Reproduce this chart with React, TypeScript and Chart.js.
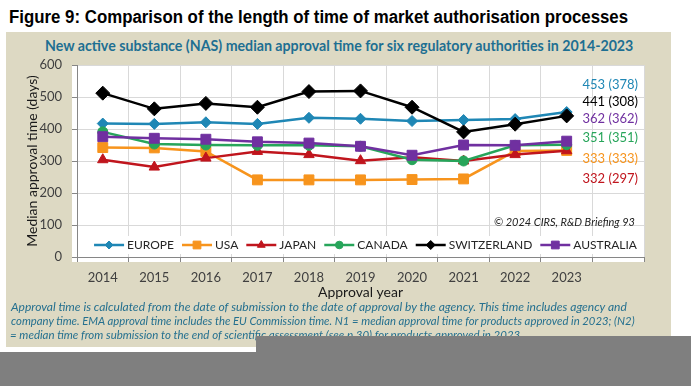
import React, { useEffect, useLayoutEffect, useRef } from 'react';
import { Chart, registerables } from 'chart.js';
import { drawPoint } from 'chart.js/helpers';

Chart.register(...registerables);

// ---------- data ----------
const years = ['2014', '2015', '2016', '2017', '2018', '2019', '2020', '2021', '2022', '2023'];
const categoryLabels = [...years, ''];

const seriesNames = ['EUROPE', 'USA', 'JAPAN', 'CANADA', 'SWITZERLAND', 'AUSTRALIA'];
const europe = [417, 416, 421, 416, 435, 432, 425, 428, 431, 453];
const usa = [342, 341, 330, 241, 241, 241, 242, 244, 331, 333];
const japan = [304, 281, 309, 330, 320, 301, 312, 300, 320, 332];
const canada = [391, 353, 350, 349, 349, 346, 304, 300, 349, 351];
const switzerland = [512, 463, 480, 468, 517, 519, 468, 391, 415, 441];
const australia = [376, 371, 368, 360, 356, 346, 318, 350, 349, 362];
const seriesValues = [europe, usa, japan, canada, switzerland, australia];

const yMin = 0;
const yMax = 600;
const yStep = 100;

// end labels: N1 (N2), in the stacked order shown at the right of the plot
const endLabelSeries = ['EUROPE', 'SWITZERLAND', 'AUSTRALIA', 'CANADA', 'USA', 'JAPAN'];
const endLabelN1 = [453, 441, 362, 351, 333, 332];
const endLabelN2 = [378, 308, 362, 351, 333, 297];
const endLabelLevels = [538, 486, 432, 373, 308, 243];

const titleText = 'Figure 9: Comparison of the length of time of market authorisation processes';
const subtitleText = 'New active substance (NAS) median approval time for six regulatory authorities in 2014-2023';
const yTitle = 'Median approval time (days)';
const xTitle = 'Approval year';
const copyrightText = '\u00A9 2024 CIRS, R&D Briefing 93';
const noteLines = [
  'Approval time is calculated from the date of submission to the date of approval by the agency. This time includes agency and',
  'company time. EMA approval time includes the EU Commission time. N1 = median approval time for products approved in 2023; (N2)',
  '= median time from submission to the end of scientific assessment (see p 30) for products approved in 2023.',
];

// ---------- styles ----------
const seriesStyle: Record<string, { color: string; point: string; r: number; lr: number }> = {
  EUROPE: { color: '#1f87b5', point: 'rectRot', r: 5.5, lr: 4 },
  USA: { color: '#f7941d', point: 'rect', r: 7, lr: 5.5 },
  JAPAN: { color: '#c0151d', point: 'triangle', r: 6, lr: 4.5 },
  CANADA: { color: '#27a55a', point: 'circle', r: 5, lr: 3.8 },
  SWITZERLAND: { color: '#000000', point: 'rectRot', r: 7, lr: 4.5 },
  AUSTRALIA: { color: '#7030a0', point: 'rect', r: 7, lr: 5.5 },
};

const FONT = 'Lato, "Open Sans", sans-serif';
const NOTE_COLOR = '#25708f';

const plotBgPlugin = {
  id: 'plotBg',
  beforeDraw(chart: any) {
    const { ctx, chartArea: ca } = chart;
    ctx.save();
    ctx.fillStyle = '#ffffff';
    ctx.fillRect(ca.left - 5, ca.top, ca.right - ca.left + 5, ca.bottom - ca.top + 5);
    ctx.restore();
  },
};

const overlayPlugin = {
  id: 'overlay',
  afterDatasetsDraw(chart: any) {
    const { ctx, chartArea: ca } = chart;
    const yScale = chart.scales.y;
    ctx.save();

    // end labels
    ctx.font = `13px ${FONT}`;
    ctx.textAlign = 'right';
    ctx.textBaseline = 'middle';
    endLabelSeries.forEach((name, i) => {
      ctx.fillStyle = seriesStyle[name].color;
      ctx.fillText(`${endLabelN1[i]} (${endLabelN2[i]})`, ca.right - 6, yScale.getPixelForValue(endLabelLevels[i]));
    });

    // copyright
    ctx.font = `italic 11px ${FONT}`;
    ctx.fillStyle = '#222222';
    ctx.fillText(copyrightText, ca.right - 9, ca.bottom - 35);

    // legend
    ctx.font = `12px ${FONT}`;
    const lineW = 30;
    const gap = 3;
    const itemGap = 8;
    const widths = seriesNames.map((n) => lineW + gap + ctx.measureText(n).width);
    const total = widths.reduce((a, b) => a + b, 0) + itemGap * (seriesNames.length - 1);
    let x = (ca.left + ca.right) / 2 - total / 2 + 5;
    const y = ca.bottom - 12;
    ctx.fillStyle = '#ffffff';
    ctx.fillRect(x - 4, y - 9, total + 8, 18);
    ctx.textAlign = 'left';
    seriesNames.forEach((n, i) => {
      const st = seriesStyle[n];
      ctx.strokeStyle = st.color;
      ctx.fillStyle = st.color;
      ctx.lineWidth = 2.5;
      ctx.beginPath();
      ctx.moveTo(x, y);
      ctx.lineTo(x + lineW, y);
      ctx.stroke();
      ctx.lineWidth = 1;
      drawPoint(ctx, { pointStyle: st.point, radius: st.lr, borderWidth: 1, rotation: 0 } as any, x + lineW / 2, y);
      ctx.fillStyle = '#262626';
      ctx.fillText(n, x + lineW + gap, y + 0.5);
      x += widths[i] + itemGap;
    });
    ctx.restore();
  },
};

function FitLine(props: {
  text: string;
  fitChars?: number;
  width: number;
  left: number;
  top: number;
  font: string;
  size: number;
  color: string;
}) {
  const outer = useRef<HTMLDivElement>(null);
  const pre = useRef<HTMLSpanElement>(null);
  useLayoutEffect(() => {
    if (!outer.current || !pre.current) return;
    const w = pre.current.offsetWidth;
    if (w > 0) outer.current.style.transform = `scaleX(${props.width / w})`;
  });
  const a = props.fitChars ? props.text.slice(0, props.fitChars) : props.text;
  const b = props.fitChars ? props.text.slice(props.fitChars) : '';
  return (
    <div
      ref={outer}
      style={{
        position: 'absolute',
        left: props.left,
        top: props.top,
        whiteSpace: 'nowrap',
        transformOrigin: '0 0',
        font: props.font,
        fontSize: props.size,
        lineHeight: `${props.size}px`,
        color: props.color,
      }}
    >
      <span ref={pre}>{a}</span>
      {b}
    </div>
  );
}

function ChartCanvas() {
  const ref = useRef<HTMLCanvasElement>(null);
  useEffect(() => {
    if (!ref.current) return;
    const datasets = seriesNames.map((name, i) => {
      const st = seriesStyle[name];
      return {
        label: name,
        data: seriesValues[i],
        borderColor: st.color,
        backgroundColor: st.color,
        borderWidth: 2.5,
        pointStyle: st.point,
        pointRadius: st.r,
        pointBorderWidth: 1,
        pointBorderColor: st.color,
        pointBackgroundColor: st.color,
        tension: 0,
        fill: false,
        order: seriesNames.length - i,
      };
    });
    const chart = new Chart(ref.current, {
      type: 'line',
      data: { labels: categoryLabels, datasets },
      options: {
        animation: false,
        responsive: false,
        devicePixelRatio: 1,
        layout: { padding: { top: 33, right: 27, left: 0, bottom: 0 } },
        plugins: {
          legend: { display: false },
          tooltip: { enabled: false },
          title: { display: false },
        },
        scales: {
          x: {
            type: 'category',
            offset: true,
            grid: { offset: true, color: '#d9d9d9', tickColor: '#868686', tickLength: 5, drawTicks: true },
            border: { color: '#868686', width: 1 },
            ticks: {
              autoSkip: false,
              maxRotation: 0,
              padding: 8,
              color: '#404040',
              font: { family: FONT, size: 13 },
            },
            title: {
              display: true,
              text: xTitle,
              color: '#1a1a1a',
              font: { family: FONT, size: 14 },
              padding: { top: 0, bottom: 1 },
            },
            afterFit: (s: any) => {
              s.height = 45;
            },
          },
          y: {
            min: yMin,
            max: yMax,
            ticks: {
              stepSize: yStep,
              padding: 10,
              color: '#404040',
              font: { family: FONT, size: 13 },
            },
            grid: { color: '#d9d9d9', tickColor: '#868686', tickLength: 5, drawTicks: true },
            border: { color: '#868686', width: 1 },
            title: {
              display: true,
              text: yTitle,
              color: '#1a1a1a',
              font: { family: FONT, size: 14 },
              padding: { top: 18, bottom: 0 },
            },
            afterFit: (s: any) => {
              s.width = 71;
            },
          },
        },
      } as any,
      plugins: [plotBgPlugin, overlayPlugin],
    });
    return () => chart.destroy();
  }, []);
  return (
    <canvas
      ref={ref}
      width={665}
      height={270}
      style={{ position: 'absolute', left: 6, top: 32, width: 665, height: 270 }}
    />
  );
}

export default function App() {
  return (
    <div
      style={{
        position: 'absolute',
        left: 0,
        top: 0,
        width: 691,
        height: 386,
        background: '#ffffff',
        overflow: 'hidden',
      }}
    >
      <FitLine
        text={titleText}
        width={619}
        left={9}
        top={7.5}
        font={`bold 18px "Liberation Sans", Arial, sans-serif`}
        size={18}
        color="#000000"
      />
      <div style={{ position: 'absolute', left: 6, top: 32, width: 665, height: 315, background: '#ddd9c3' }} />
      <FitLine
        text={subtitleText}
        width={588}
        left={45}
        top={37.5}
        font={`bold 15px ${FONT}`}
        size={15}
        color="#1d6f92"
      />
      <ChartCanvas />
      <FitLine text={noteLines[0]} width={616} left={11} top={301} font={`italic 12px ${FONT}`} size={12} color={NOTE_COLOR} />
      <FitLine text={noteLines[1]} width={624} left={11} top={315} font={`italic 12px ${FONT}`} size={12} color={NOTE_COLOR} />
      <FitLine
        text={noteLines[2]}
        fitChars={50}
        width={245}
        left={10}
        top={328.5}
        font={`italic 12px ${FONT}`}
        size={12}
        color={NOTE_COLOR}
      />
      <div style={{ position: 'absolute', left: 256, top: 336, width: 435, height: 50, background: '#7f7f7f' }} />
      <div style={{ position: 'absolute', left: 0, top: 352, width: 691, height: 34, background: '#7f7f7f' }} />
    </div>
  );
}
